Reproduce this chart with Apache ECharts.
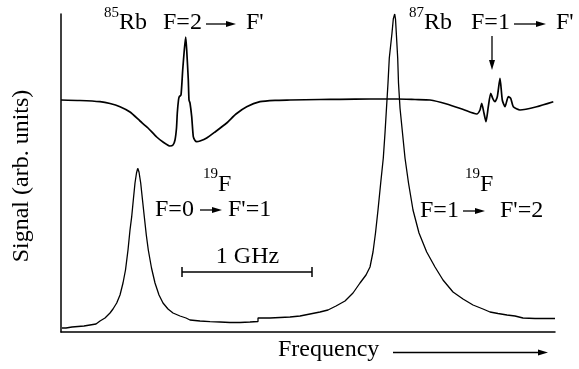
<!DOCTYPE html>
<html>
<head>
<meta charset="utf-8">
<script src="https://cdn.jsdelivr.net/npm/echarts@6/dist/echarts.min.js"></script>
<style>
  html, body { margin: 0; padding: 0; background: #fff; }
  #chart { width: 579px; height: 369px; }
</style>
</head>
<body>
<div id="chart"></div>
<script>
// frequency in arbitrary units (0 - 494), signal in arbitrary units (0 - 318)
// 1 GHz corresponds to 130 frequency units
var fluorFreq = [1, 5, 5, 11, 11, 17, 17, 23, 23, 29, 29, 35, 35, 39, 44, 49, 52, 55.7, 59, 62, 64.5, 67, 69, 70.7, 72.5, 74, 75.5, 76.7, 78, 79.7, 81.5, 83.3, 85.3, 87.3, 90.5, 94, 98, 102, 107, 112, 119, 125, 129, 139, 149, 159, 169, 179, 189, 197, 197, 209, 219, 229, 239, 249, 259, 267, 275, 284, 292, 299, 305, 309, 312, 314.5, 317, 319.7, 322.3, 324, 325.5, 327, 328.3, 331, 332.3, 333.7, 334.5, 335.3, 336.7, 337.5, 339, 341.5, 344, 347.5, 352, 358, 365.7, 374, 382, 392, 402, 412, 422, 429, 437, 446, 454, 462, 474, 484, 494];
var fluorSignal = [4, 4, 5, 5, 5.5, 5.5, 6, 6, 7, 7, 8, 8, 9.5, 11, 14, 19, 23, 29, 37, 49, 62, 82, 102, 115.3, 134, 149, 159, 163.7, 160, 149, 132, 115.3, 97, 82, 64, 49, 37, 29, 23, 19, 16, 14, 12, 11, 10.3, 10, 9.5, 9.5, 10, 10.5, 14, 14, 14.5, 15, 16, 18, 20, 22, 26, 31, 39, 49, 57, 65, 80, 99, 122, 149, 174, 199, 224, 249, 274, 299, 313, 318, 313, 299, 274, 249, 224, 199, 174, 149, 122, 99, 80, 65, 52, 40, 33, 27, 23, 20, 18.5, 17, 16, 14, 13.5, 13.5, 13.5];

var satFreq = [0, 19, 39, 49, 59, 69, 79, 87, 95.7, 102, 109, 112, 114, 115.5, 116.3, 117.5, 118.3, 120, 121.7, 123.3, 124.7, 125.7, 127.3, 128, 129, 130.7, 132.3, 134, 135.7, 139, 145.7, 154, 165.7, 175, 185.7, 199, 214, 229, 259, 279, 309, 322, 336, 354, 369, 385.7, 402.3, 415.7, 419, 420.7, 423, 425, 427.3, 429.7, 431.7, 434, 436.3, 439, 441.3, 444, 447.3, 449.7, 452.3, 459, 475.7, 492.3];
var satSignal = [232, 231.5, 230.3, 228.5, 225.3, 220, 211, 204, 195, 190, 186, 187, 192, 204, 219, 232, 235.3, 237, 262, 282, 295, 282, 252, 232, 229, 215.3, 195.3, 191.5, 190.3, 191, 194, 200, 209, 218, 225.3, 230.3, 231.7, 232, 232.5, 232.7, 233, 233, 233, 232.5, 232, 228, 222.5, 218, 222, 228.7, 218.7, 210.3, 225.3, 238.7, 233.7, 230.3, 235.3, 253.7, 232, 225.3, 235.3, 233.7, 225.3, 222, 225.3, 230.3];

// 1 GHz scale bar
var barFreq = [121, 251];
var barSignal = [60, 60];

function pairs(xs, ys) {
  var out = [];
  for (var i = 0; i < xs.length; i++) out.push([xs[i], ys[i]]);
  return out;
}

var chart = echarts.init(document.getElementById('chart'));
var serif = 'Liberation Serif, Times New Roman, serif';

function label(txt, x, y, size, align) {
  return {
    type: 'text', x: x, y: y, silent: true,
    style: { text: txt, font: size + 'px ' + serif, fill: '#000',
             textAlign: align || 'left', textVerticalAlign: 'middle' }
  };
}
function hArrow(x1, x2, y) {
  return [
    { type: 'line', silent: true, shape: { x1: x1, y1: y, x2: x2 - 8, y2: y },
      style: { stroke: '#000', lineWidth: 1.3 } },
    { type: 'polygon', silent: true, shape: { points: [[x2, y], [x2 - 10, y - 3], [x2 - 10, y + 3]] },
      style: { fill: '#000' } }
  ];
}

var graphics = [
  label('85', 104, 13, 15),
  label('Rb', 119, 22.5, 24),
  label('F=2', 163, 22.5, 24),
  label("F'", 246, 22.5, 24),
  label('87', 409, 13, 15),
  label('Rb', 424, 22.5, 24),
  label('F=1', 471, 22.5, 24),
  label("F'", 556, 22.5, 24),
  label('19', 203, 174, 15),
  label('F', 218, 185, 24),
  label('F=0', 155, 210, 24),
  label("F'=1", 228, 210, 24),
  label('19', 465, 174, 15),
  label('F', 480, 185, 24),
  label('F=1', 420, 211, 24),
  label("F'=2", 500, 211, 24),
  label('1 GHz', 247.5, 256.5, 24, 'center'),
  label('Frequency', 278, 349.5, 24),
  {
    type: 'text', x: 22, y: 176, rotation: Math.PI / 2, silent: true,
    style: { text: 'Signal (arb. units)', font: '24px ' + serif, fill: '#000',
             textAlign: 'center', textVerticalAlign: 'middle' }
  },
  { type: 'line', silent: true, shape: { x1: 492, y1: 36, x2: 492, y2: 62 },
    style: { stroke: '#000', lineWidth: 1.3 } },
  { type: 'polygon', silent: true, shape: { points: [[492, 70], [489, 60], [495, 60]] },
    style: { fill: '#000' } }
]
  .concat(hArrow(206, 236, 24))
  .concat(hArrow(514, 546, 24))
  .concat(hArrow(200, 222, 210))
  .concat(hArrow(463, 485, 211))
  .concat(hArrow(393, 548, 352.5));

var option = {
  animation: false,
  backgroundColor: '#fff',
  grid: { left: 61, right: 24, top: 14, bottom: 37 },
  xAxis: {
    type: 'value', min: 0, max: 494,
    axisLine: { show: true, onZero: false, lineStyle: { color: '#000', width: 1.5 } },
    axisTick: { show: false }, axisLabel: { show: false }, splitLine: { show: false }
  },
  yAxis: {
    type: 'value', min: 0, max: 318,
    axisLine: { show: true, onZero: false, lineStyle: { color: '#000', width: 1.5 } },
    axisTick: { show: false }, axisLabel: { show: false }, splitLine: { show: false }
  },
  series: [
    {
      name: 'fluorescence', type: 'line', data: pairs(fluorFreq, fluorSignal),
      showSymbol: false, symbol: 'none',
      lineStyle: { color: '#000', width: 1.3 }
    },
    {
      name: 'saturated absorption', type: 'line', data: pairs(satFreq, satSignal),
      showSymbol: false, symbol: 'none', smooth: 0.2,
      lineStyle: { color: '#000', width: 1.7 }
    },
    {
      name: 'scale', type: 'line', data: pairs(barFreq, barSignal),
      symbol: 'rect', symbolSize: [1.5, 10],
      itemStyle: { color: '#000' },
      lineStyle: { color: '#000', width: 1.3 }
    }
  ],
  graphic: graphics
};

chart.setOption(option);
</script>
</body>
</html>
